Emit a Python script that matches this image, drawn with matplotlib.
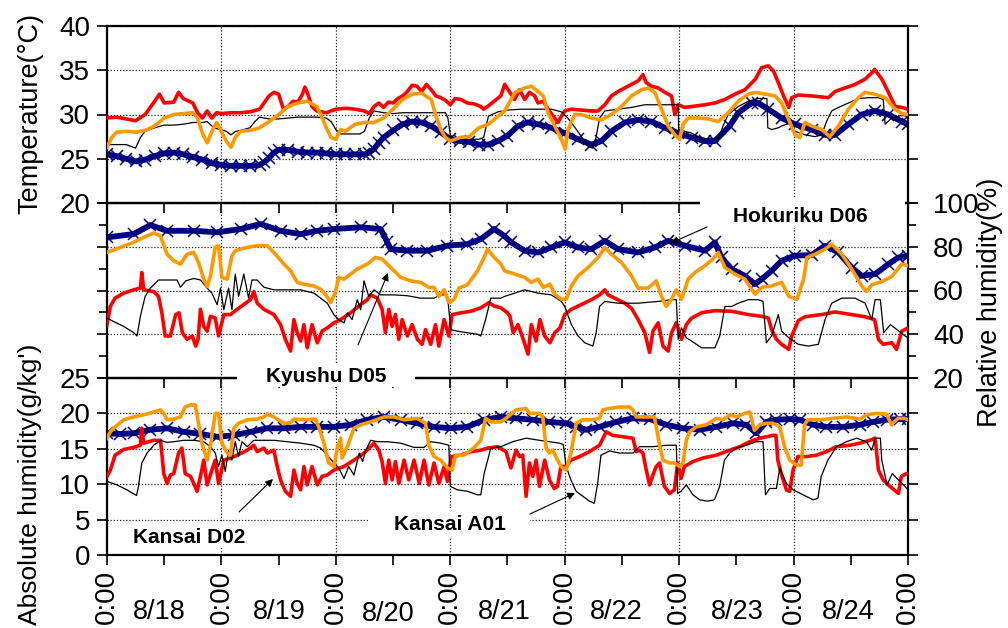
import matplotlib
matplotlib.use('Agg')
import matplotlib.pyplot as plt
from matplotlib.ticker import MultipleLocator
from matplotlib.transforms import blended_transform_factory
from matplotlib.patches import Rectangle

plt.rcParams['font.family'] = ['Liberation Sans', 'DejaVu Sans']

# ---------------- data (time in hours from 8/18 0:00) ----------------
# Temperature (degC)
t_red_h = [0,2,4,6,8,10,11,12,14,15,16,18,19,20,21,22,23,24,26,28,30,32,34,35,36,37,38,39,40,41,41.5,42,43,44,46,48,50,52,54,55,56,57,58,59,60,61,62,63,64,65,66,67,68,69,70,71,72,73,74.2,75.6,77,78.4,79,79.8,81.2,82.6,83.4,84.5,85.5,86.5,87.6,88.6,89.7,90.4,91.5,92.5,93.6,94.6,95.3,96,97.4,99.5,101.6,103,104.4,105.8,107.2,108.6,110,111.4,112.4,113.1,114.2,115.6,117,118.4,119.1,119.8,121.2,122.6,125.4,127.5,129.6,131.7,133.8,136,137.3,138.7,139.8,140.8,141.9,143,143.6,145,147.8,151.3,152.7,154.8,156.9,159,160.4,161,162.5,163.9,165.3,166.7,168]
t_red_v = [29.6,29.7,29.5,29.3,30.0,31.5,32.3,31.3,31.4,32.5,31.8,31.3,30.2,29.6,30.4,29.6,30.2,30.1,30.2,30.2,30.3,30.6,32.1,32.5,32.3,30.6,30.9,31.5,31.4,32.3,33.1,32.5,30.9,30.4,30.2,30.6,30.7,30.6,30.4,30.1,30.9,31.3,30.8,31.4,31.3,31.8,32.1,32.6,33.3,33.2,32.6,33.4,32.8,32.1,31.9,31.6,31.1,31.8,31.7,31.3,31.2,30.9,30.6,30.9,31.5,32.1,33.4,32.5,31.7,32.8,31.7,32.5,32.1,31.3,31.5,30.6,29.8,29.1,29.8,30.4,30.6,30.5,30.4,30.4,31.1,32.1,32.6,33.0,33.4,33.8,34.5,33.6,33.2,33.0,32.5,32.1,30.0,31.1,30.8,30.9,31.1,31.3,31.7,32.3,32.8,34.0,35.3,35.5,34.9,33.6,32.1,30.8,31.9,32.2,32.1,31.9,32.6,33.0,33.4,34.0,34.7,35.1,34.0,32.5,30.9,30.8,30.6]

t_org_h = [0,1,2,4,6,8,10,12,14,16,18,19,20,21,22,23,24,25,26,27,28,30,32,34,36,38,40,42,44,45,46,47,48,49,50,52,54,56,58,60,62,64,66,68,69,70,71,72,74,76,78,80,82,83.4,85.6,87.6,89,90.4,91.5,92.5,93.9,95.3,96.1,96.7,98.1,99.5,101.6,103.7,105.8,107.9,110,112.1,113.5,114.9,116.3,117.7,119.1,120.1,120.8,121.9,124,126.1,128.2,130.3,132.4,134.5,136,138,140.1,141.5,143,144.3,145.3,146.4,147.8,149.9,151.6,153.4,155.5,157.6,159,161,163.2,165.3,166.7,168]
t_org_v = [26.3,27.4,28.0,28.1,28.0,28.2,28.7,29.6,30.0,30.1,30.2,29.6,27.9,26.8,28.1,29.1,28.1,27.0,26.3,27.5,28.1,28.2,28.5,29.2,30.0,30.9,31.3,31.5,30.9,29.8,28.5,27.4,27.2,28.3,28.1,28.9,29.1,29.1,29.6,30.6,31.7,32.3,32.4,31.7,29.8,28.3,27.4,27.0,27.4,27.5,28.5,28.9,29.8,30.4,32.5,33.0,33.2,32.6,32.1,30.2,28.7,27.2,26.1,28.3,30.0,30.0,29.6,29.4,30.0,30.9,32.1,32.8,33.0,32.5,30.6,28.7,27.7,27.2,28.9,29.6,29.6,29.5,29.2,30.2,31.5,32.3,32.5,32.3,32.1,31.3,29.4,27.7,27.4,29.1,28.7,28.3,27.5,28.7,30.6,31.9,32.5,32.3,31.9,30.6,30.1,30.0]

t_blk_h = [0,4,6,7,8,10,12,14,16,18,20,21,22,23,24,25,26,27,28,30,31,32,34,36,38,40,42,44,46,47,48,49,51,53,54,55,56,58,60,62,64,66,68,70,71,71.5,72,73,74,76,78,79,80,82,84,86.9,90.4,93.2,95.3,96.3,97.4,99.5,100.9,101.9,102.6,103.3,104.4,107.2,110,112.8,116.3,119.8,119.9,121.2,122.6,124,126.1,128.2,129.2,130.3,132.4,134.5,136.6,138.4,138.6,139.4,140.8,141.5,143,144.3,146.4,148.5,149.9,150.9,152,153.4,155.5,157.6,159.7,161.8,162.8,163.2,164.6,166.7,168]
t_blk_v = [26.6,26.6,26.2,27.4,28.1,28.5,28.8,28.8,28.9,29.1,29.1,29.2,28.7,28.4,28.3,28.1,27.7,28.1,28.2,28.5,29.2,29.7,29.5,29.5,29.6,29.7,29.7,29.7,29.6,29.2,28.3,27.8,27.8,27.8,28.1,29.6,30.4,30.2,30.1,30.2,30.2,30.2,30.2,30.2,30.2,29.6,27.7,27.2,27.2,27.2,27.2,27.4,29.8,30.3,30.5,30.6,30.6,30.6,30.3,29.8,29.1,27.5,26.4,26.2,27.5,29.6,30.4,30.6,30.8,31.1,31.1,31.1,28.3,28.1,27.9,27.5,27.2,27.2,28.7,30.0,30.9,31.5,31.8,31.8,28.5,28.3,28.5,28.7,29.0,28.1,27.7,27.5,27.7,29.2,30.4,30.8,31.3,31.8,31.9,31.9,31.7,28.9,29.6,29.9,29.8]

t_nav_h = [0,2,4,6,8,10,12,14,16,18,20,22,24,26,28,30,32,33,34,35,36,38,40,42,44,46,48,50,52,54,55,56,57,58,60,62,64,66,68,70,72,74,76,78,80,82,84,86.2,88.3,90.4,93.2,96,98.8,101.6,103.7,105.8,108.6,111.4,114.2,117,119.8,122.6,125.4,127.5,130.6,132.4,135.2,136.6,138.7,141.5,144.3,147.8,150.6,152.7,155.5,158.3,161,163.9,166.7,168]
t_nav_v = [25.5,25.3,25.0,24.7,24.9,25.3,25.6,25.7,25.5,25.2,24.9,24.5,24.3,24.2,24.2,24.2,24.3,24.6,25.1,25.7,26.0,26.0,25.8,25.7,25.7,25.6,25.5,25.5,25.5,25.5,25.7,26.1,26.8,27.4,28.2,28.9,29.2,29.1,28.7,28.0,27.2,27.0,26.9,26.6,26.6,27.0,27.6,28.7,29.1,28.9,28.5,27.9,27.2,26.6,27.0,28.1,29.1,29.4,29.2,28.5,27.9,27.4,27.0,27.0,28.7,30.2,31.3,31.3,30.6,29.6,28.9,28.3,27.7,27.7,28.9,30.0,30.4,30.0,29.2,28.9]

# Relative humidity (%)
r_nav_h = [0,5.6,9.1,12.6,18.2,23.1,28,32.2,36.4,40.6,44.1,47.6,53.2,57.4,58.8,59.5,63,67.2,71.4,75.6,78.4,81.2,83.3,84.8,87.6,90.4,93.2,96,98.8,101.6,104.4,107.2,111.4,114.9,117.7,121.2,125.4,127.5,128.9,131,133.8,135.9,137.3,139.4,141.5,144.3,147.8,150.6,153.4,156.2,158.3,161.1,163.9,166,168]
r_nav_v = [84.3,85.8,89.9,87.3,87.3,86.6,88.1,90.4,87.3,85.8,87.3,88.1,88.9,88.1,82.0,78.9,78.2,78.2,80.5,81.2,83.5,88.1,85.0,82.0,78.2,77.4,79.7,82.0,79.7,78.9,82.7,78.9,77.4,79.7,82.7,80.5,78.2,82.0,75.1,69.8,66.7,62.9,65.2,69.0,73.6,75.9,76.2,80.5,77.4,70.5,66.7,67.5,72.1,75.1,75.9]

r_org_h = [0,2.8,5.6,7.7,9.8,11.2,12.6,14,15.4,16.8,18.2,19.2,20.3,21,21.7,22.7,23.4,24.1,25.2,26.2,26.9,28,29.4,31.5,33.6,35,37.1,38.5,39.9,41.3,43.4,44.8,45.8,46.9,47.9,48.6,49.7,51.1,52.5,54.6,56.3,57.7,59.5,61.6,63.7,65.8,67.5,68.6,69.6,70.7,71.7,72.8,73.8,75.6,77.7,79.1,79.8,81.2,82.6,83.4,85.5,87.6,89,90.4,91.5,92.9,93.9,95.3,96.3,97.4,98.8,100.9,103,104.4,105.8,107.9,110,111.4,113.5,115.2,116.3,117.3,118.4,119.4,120.5,121.9,123.3,125.4,127.1,128.2,129.6,131.7,133.8,135.9,137.3,139.4,141.5,143,144.7,146.1,146.8,148.5,150.6,152,154.1,156.2,158.3,159.3,160.4,162.5,164.6,166.7,168]
r_org_v = [77.4,79.7,82.0,84.3,86.3,85.0,76.6,73.6,72.1,76.6,77.4,72.8,65.2,61.8,66.7,79.7,80.5,66.0,65.2,75.9,78.2,78.9,79.7,80.5,80.5,77.4,72.1,69.0,63.7,62.9,62.1,60.6,58.3,54.5,59.1,66.0,65.2,67.5,69.8,72.1,75.1,74.4,70.5,66.0,64.4,63.7,61.4,61.4,57.3,60.3,54.5,56.0,61.1,62.6,69.0,75.1,78.9,75.1,72.1,69.0,67.5,66.0,63.7,65.2,61.4,62.9,58.3,56.0,56.0,62.1,66.7,70.5,75.1,79.7,76.6,72.8,66.7,61.1,61.1,64.4,57.3,52.7,56.0,60.3,56.0,65.2,68.2,71.3,74.4,77.4,70.5,67.5,65.2,58.3,61.4,62.1,63.7,57.3,56.0,65.2,75.1,76.6,78.9,81.2,76.6,69.8,62.1,59.5,62.6,64.1,66.4,72.1,71.3]

r_red_h = [0,0.7,1.7,3.5,5.6,7,7.3,7.7,9.8,10.8,11.5,12.2,13.3,14.4,15.1,15.8,16.8,17.9,18.6,19.1,19.6,20.3,21,21.7,22.7,23.4,24.5,25.9,27.3,28.7,30.1,30.8,31.5,32.9,35,36.4,37.4,38.5,39.2,39.9,40.6,41.3,42,43,44.1,45.1,46.2,47.6,49,51.1,53.2,54.6,55.3,56.7,57.7,58.4,59.1,59.8,60.5,61.2,61.9,63,64,65.1,66.1,66.8,67.9,68.9,69.6,70.7,71.7,72.4,74.2,76.3,78.4,80.1,81.2,82.6,84,84.5,85.2,86.2,87.3,88.3,89,90,90.8,91.8,92.9,93.9,95,96,97.4,99.5,101.6,103.3,104.4,105.1,106.5,108.6,110,111.4,112.8,113.8,114.5,115.6,116.6,117.7,118.4,119.4,120.5,121.5,122.6,124.7,127.5,131,134.5,137.3,138.7,139.4,140.4,141.5,143,143.6,145,146.4,149.9,152.7,156.2,159,161,161.8,162.8,164.6,165.6,166.7,168]
r_red_v = [44.4,52.7,56.5,58.8,60.3,61.1,68.2,60.3,59.5,57.3,49.8,39.2,39.2,49.0,49.8,40.7,37.7,39.2,34.6,37.7,51.4,43.6,41.4,48.2,47.4,39.2,49.0,49.0,51.4,53.6,55.8,59.5,54.2,51.4,49.0,44.4,37.7,32.3,46.7,40.7,36.9,44.4,33.8,44.4,36.1,41.4,42.9,45.2,46.7,49.8,53.6,55.8,58.0,56.5,51.4,40.7,51.4,43.6,49.0,37.7,46.7,39.2,44.4,37.7,35.4,42.1,35.4,44.4,34.6,46.7,39.2,49.0,49.8,50.5,52.1,54.4,52.9,52.1,49.8,48.3,40.7,44.4,37.7,30.9,44.4,36.9,46.7,39.2,36.1,40.7,42.9,49.0,51.4,53.6,55.8,58.0,60.3,58.0,56.5,54.2,51.9,46.7,40.7,31.7,41.4,45.2,34.6,32.3,40.7,45.2,37.7,44.4,47.4,49.8,50.8,50.5,49.0,48.2,47.4,42.1,37.7,35.4,33.1,39.2,46.2,48.0,49.0,50.2,49.0,48.0,46.7,37.7,35.4,36.1,33.1,41.4,42.9]

r_blk_h = [0,1.4,3.5,5.6,6.3,7,8,9.1,10.8,12.6,14.7,15.4,16.5,18.2,19.6,21,22,23.1,23.8,24.5,25.5,26.2,26.9,27.6,28.7,29.7,30.4,31.5,32.9,35,37.8,40.6,43.4,44.8,46.2,47.6,48.6,49.7,50.4,51.4,52.5,53.2,53.9,54.9,56,57.4,60.2,63,65.8,68.6,70,71.4,72.1,73.5,75.6,77.7,78.4,79.4,80.5,82.6,83.4,85.5,87.6,90.4,93.2,95.3,96,97.4,98.8,100.2,101.9,102.6,103.3,104.4,107.2,111.4,115.6,118.4,119.4,119.8,120.5,121.5,122.6,124.7,127.5,128.5,129.6,131,132.4,134.5,136.6,137.6,138.3,139.4,140.8,141.5,143,145,147.1,149.2,150.6,152,154.1,156.9,159,160.4,161.1,162.2,162.9,164.3,165.7,167.4,168]
r_blk_v = [47.4,45.8,43.6,40.7,39.2,48.2,57.3,61.1,64.8,64.8,64.8,61.5,64.4,65.5,64.8,61.1,58.8,53.5,61.1,51.2,61.1,51.2,67.5,57.3,67.5,56.5,64.8,64.8,61.5,60.3,60.3,60.3,58.8,56.5,54.2,48.9,46.7,45.2,49.8,46.7,55.8,51.2,64.4,57.3,60.3,58.0,58.0,57.6,56.5,56.5,58.0,58.0,42.1,41.4,40.7,40.0,39.2,46.7,56.5,56.5,57.3,58.8,60.3,58.8,58.0,55.0,52.7,44.4,39.2,36.1,34.6,40.7,52.7,55.0,54.2,54.2,55.0,55.8,55.8,37.7,42.9,38.4,36.9,33.8,33.8,39.2,52.7,52.7,54.2,55.8,55.8,55.0,36.1,39.2,49.0,41.4,38.4,35.4,34.6,35.4,46.7,54.2,56.5,56.5,54.2,46.7,55.8,55.8,40.7,44.4,42.1,39.2,38.4]

# Absolute humidity (g/kg')
a_org_h = [0,0.7,1.7,3.5,5.6,7.7,9.8,11.2,11.9,12.6,14,15.4,16.4,17.5,18.5,19.2,19.9,21,21.7,22.7,23.4,24.1,25.2,25.9,26.6,27.6,29.4,31.5,32.9,33.6,35,37.1,38.5,39.2,41.3,43.7,44.4,45.5,46.5,47.6,48.3,49,49.3,50.4,51.8,53.2,55.3,58.1,60.2,62.3,65.1,66.8,67.5,68.6,70,71.4,72.4,73.1,74.8,76.9,78.4,79.4,80.5,82.6,83.7,85.8,87.9,88.6,90.7,91.4,92.1,92.8,93.5,94.5,95.2,96.3,97.3,98.4,99.8,101.9,103.3,104,105.4,107.5,109.6,110.3,111,114.8,115.2,115.9,116.6,118,119,120.1,120.8,121.5,122.2,123.6,125.7,127.8,129.2,130.6,132,133.7,134.8,135.8,136.9,138.3,139.7,141.1,142.1,143.2,144.6,145.6,146.3,147,149.5,152.3,155.1,157.9,159.3,161.4,163.5,164.5,165.9,167.3,168]
a_org_v = [16.5,17.4,18.1,19.1,19.5,19.8,20.2,20.5,20.0,19.1,19.2,19.5,20.9,21.2,21.2,18.6,15.8,13.4,15.5,20.0,20.0,15.8,14.4,14.1,17.9,18.6,19.1,19.2,19.5,19.9,19.5,18.6,18.7,19.2,19.1,19.2,18.1,15.8,13.0,12.5,15.1,16.5,13.7,15.3,17.9,18.4,18.8,19.5,19.5,19.1,19.3,18.6,15.5,13.9,13.4,12.3,12.0,14.1,14.1,15.1,16.2,19.3,18.8,18.8,19.3,20.5,20.7,20.0,20.0,19.5,15.1,14.4,14.8,13.4,12.5,12.0,14.4,18.6,19.1,19.1,19.3,20.5,20.7,20.9,20.9,20.5,19.5,19.5,18.1,15.5,13.4,13.0,13.0,12.5,13.0,16.2,17.4,18.1,18.4,19.3,19.1,19.8,19.5,20.0,20.2,17.6,18.4,18.6,18.6,18.1,15.3,13.4,12.7,12.7,18.4,19.1,19.1,19.3,19.5,19.2,19.8,20.0,19.9,18.4,19.3,19.3,19.1]

a_nav_h = [0,2.8,5.6,9.1,12.6,16.1,19.6,23.1,26.6,30.1,33.6,37.1,40.6,44.1,47.6,51.1,54.6,58.1,61.6,65.1,68.6,72.1,75.6,79.1,82.6,85.8,89.3,92.8,96.3,98.4,100.5,103.3,106.8,110.3,113.8,117.3,120.8,124.3,127.8,131.3,134.1,136.2,138.3,140.4,143.2,145.3,148.1,150.9,154.4,157.9,160.7,163.5,166.3,168]
a_nav_v = [17.2,17.1,17.2,17.7,17.9,17.4,17.1,16.7,16.9,17.4,17.9,17.9,18.1,18.1,18.1,18.4,19.1,19.5,19.1,18.6,18.1,17.9,18.1,19.1,19.5,19.3,19.1,18.8,18.6,18.1,17.7,18.1,18.8,19.3,19.2,18.4,17.9,17.7,18.1,18.6,18.4,17.2,18.8,19.1,19.2,19.1,18.4,18.1,18.1,18.4,18.8,19.1,19.2,19.2]

a_red_h = [0,0.7,1.7,3.5,5.6,7,7.3,7.7,9.8,11.2,11.5,11.9,12.6,13.3,14,15,15.7,16.4,17.5,18.2,18.9,19.6,20.3,21,22,22.7,23.4,24.5,25.9,27.3,29.4,30.8,31.5,32.9,33.6,35,35.7,36.4,37.4,38.5,39.2,39.9,40.6,41.3,42,43,44.1,45.1,46.2,47.6,49.7,51.8,53.9,55.3,56,57,57.7,58.4,59.1,59.8,60.5,61.2,62.3,63.3,64.4,65.5,66.5,67.5,68.6,69.6,70.7,71.4,72.2,74.2,76.3,78.4,79.8,81.9,83.7,84.7,85.8,86.5,87.2,87.9,88.6,89.3,90,90.7,91.8,92.8,93.8,94.5,95.2,96.3,97.3,99.1,101.2,103.3,104.7,106.1,108.2,110.3,111,111.7,112.4,113.1,113.8,114.5,115.2,115.9,116.9,118,119,119.7,120.4,121.1,122.9,125,127.8,130.6,132.7,134.8,136.9,138.3,139.7,140.3,140.7,141.4,142.5,143.2,143.9,144.9,146.7,148.8,150.9,153,155.8,157.9,160,161.1,161.8,162.8,164.2,166,166.6,167.7,168]
a_red_v = [11.1,12.0,14.1,14.9,15.2,15.5,17.9,15.8,16.2,16.2,14.4,11.5,10.1,11.3,11.5,14.4,15.1,11.5,11.1,10.1,9.0,11.1,13.4,9.9,12.0,13.4,10.1,13.4,13.7,14.1,14.8,15.5,14.6,15.1,14.4,14.8,12.5,10.6,9.0,8.3,12.0,10.1,9.2,12.5,9.9,12.5,9.9,11.1,11.3,12.0,12.5,13.4,14.4,15.3,15.8,14.8,13.2,10.1,13.4,10.6,13.2,10.1,13.4,10.6,13.4,10.1,13.4,9.9,13.0,10.1,12.5,10.4,13.9,14.1,14.6,14.8,15.1,15.3,14.6,12.3,14.8,13.9,14.1,8.3,13.0,11.1,13.4,9.7,13.4,10.6,9.4,9.7,12.5,12.5,13.4,13.9,14.6,15.5,17.4,16.9,16.7,16.5,14.6,14.8,14.4,12.0,9.9,11.3,12.5,13.0,9.7,8.7,9.2,13.0,10.8,12.5,13.2,13.7,14.1,14.8,15.3,16.0,16.5,16.7,16.9,16.9,13.4,11.5,9.2,9.0,12.0,13.9,13.9,14.1,14.6,15.3,15.5,15.8,16.2,16.5,12.0,10.6,9.7,8.7,11.1,11.5,11.5]

a_blk_h = [0,2.1,4.2,6.2,6.6,7.3,8.4,9.8,11.2,12.6,14,16.1,18.2,20.3,21.7,22.7,23.4,24.1,24.8,25.5,26.2,26.9,27.6,28.3,29.4,30.8,32.9,35,37.8,40.6,43.4,44.8,46.2,47.6,48.6,49.7,50.7,51.8,52.9,53.6,54.3,55.3,56.7,58.8,61.6,64.4,66.5,67.9,70,71.7,72,73.5,75.6,77.7,78.4,79.1,80.5,82.6,85.1,87.9,90.7,92.8,94.9,95.7,96.3,97.3,98.4,99.8,101.2,102.2,102.9,103.6,105.4,107.5,110.3,111.7,114.5,117.3,119.4,119.7,120.4,121.5,122.9,124.3,126,127.4,128.5,129.5,130.6,132,134.1,136.2,137.6,138.1,139,140.4,141.1,142.5,143.9,146,148.1,149.1,149.8,151.2,153,155.1,157.2,159.3,160.4,161.1,162.2,162.5,163.6,164.7,165.7,167.1,168]
a_blk_v = [10.4,9.9,9.2,8.4,9.7,13.0,14.4,15.5,16.2,15.9,16.0,16.2,16.2,16.0,15.3,14.4,12.5,14.1,11.8,14.8,13.4,16.0,13.9,16.0,15.3,16.2,16.2,16.2,16.0,15.8,15.5,15.1,14.1,13.0,12.3,10.8,12.5,11.3,14.4,13.2,14.8,16.2,16.0,16.0,15.8,15.2,15.2,16.0,15.8,15.5,9.7,9.2,9.0,8.5,8.5,11.5,15.1,15.3,16.0,16.5,16.2,16.0,15.8,15.6,12.5,10.6,9.0,8.3,7.6,7.3,10.1,14.1,14.7,14.4,14.4,15.3,15.3,15.5,15.5,8.7,9.0,9.9,8.5,7.8,7.6,7.8,9.7,13.4,14.4,15.1,15.5,16.0,16.0,8.5,9.4,9.4,12.3,10.1,9.2,8.5,7.8,8.0,11.1,13.4,15.3,16.0,16.5,16.0,14.8,16.5,16.5,13.4,9.9,11.5,10.8,9.9,9.2]

day_tick_labels = ['0:00'] * 8
date_labels = ['8/18', '8/19', '8/20', '8/21', '8/22', '8/23', '8/24']

# ---------------- layout / style ----------------
W, H = 1008, 628
RED, ORANGE, NAVY, BLACK = '#FF0000', '#FF9900', '#000080', '#000000'
date_x = [10.9, 36.1, 58.9, 83.3, 106.8, 132.1, 155.4]
date_base = [619, 619, 621, 619, 619, 619, 619]

fig = plt.figure(figsize=(W / 100, H / 100), dpi=100)


def rect(x0, y0, x1, y1):
    return [x0 / W, 1 - y1 / H, (x1 - x0) / W, (y1 - y0) / H]


ax1 = fig.add_axes(rect(107, 26, 908, 203))
ax2 = fig.add_axes(rect(107, 203, 908, 378))
ax3 = fig.add_axes(rect(107, 378, 908, 555))


def draw(ax, nav, red, blk, org):
    ax.plot(nav[0], nav[1], color=NAVY, lw=4.2, marker='x', ms=8, mew=1.1, zorder=2)
    ax.plot(red[0], red[1], color=RED, lw=2.6, zorder=3)
    ax.plot(blk[0], blk[1], color=BLACK, lw=0.9, zorder=4)
    ax.plot(org[0], org[1], color=ORANGE, lw=2.6, zorder=5)


draw(ax1, (t_nav_h, t_nav_v), (t_red_h, t_red_v), (t_blk_h, t_blk_v), (t_org_h, t_org_v))
draw(ax2, (r_nav_h, r_nav_v), (r_red_h, r_red_v), (r_blk_h, r_blk_v), (r_org_h, r_org_v))
draw(ax3, (a_nav_h, a_nav_v), (a_red_h, a_red_v), (a_blk_h, a_blk_v), (a_org_h, a_org_v))

for ax in (ax1, ax2, ax3):
    ax.set_xlim(0, 168)
    ax.xaxis.set_major_locator(MultipleLocator(24))
    ax.xaxis.set_minor_locator(MultipleLocator(12))
    ax.grid(True, which='major', color='#222222', lw=0.9, ls=(0, (1, 1.5)))
    for s in ax.spines.values():
        s.set_linewidth(1.6)
    ax.tick_params(axis='x', which='both', direction='out', length=7, width=1.2,
                   bottom=True, top=False, labelbottom=False)
    ax.tick_params(axis='y', which='both', direction='out', length=7, width=1.2,
                   left=True, right=True, labelsize=20)
    ax.patch.set_alpha(0)

ax1.set_ylim(20, 40)
ax1.yaxis.set_major_locator(MultipleLocator(5))
ax1.tick_params(axis='y', labelleft=True, labelright=False, pad=5)

ax2.set_ylim(20, 100)
ax2.yaxis.set_major_locator(MultipleLocator(20))
ax2.yaxis.set_minor_locator(MultipleLocator(10))
ax2.tick_params(axis='y', which='minor', length=6)
ax2.tick_params(axis='y', labelleft=False, labelright=True, pad=11)

ax3.set_ylim(0, 25)
ax3.yaxis.set_major_locator(MultipleLocator(5))
ax3.tick_params(axis='y', labelleft=True, labelright=False, pad=5)
ax3.tick_params(axis='x', which='major', labelbottom=True, labelsize=20, pad=4)
ax3.set_xticks(range(0, 169, 24))
ax3.set_xticklabels(day_tick_labels, rotation=90)

btr = blended_transform_factory(ax3.transData, fig.transFigure)
for x, yb, lab in zip(date_x, date_base, date_labels):
    ax3.text(x, 1 - yb / H, lab, transform=btr, ha='center', va='baseline',
             fontsize=19.5, clip_on=False)

fig.text(30 / W, 1 - 113 / H, 'Temperature(°C)', rotation=90, ha='center', va='center', fontsize=19.5)
fig.text(990 / W, 1 - 302 / H, 'Relative humidity(%)', rotation=90, ha='center', va='center', fontsize=19.5)
fig.text(30 / W, 1 - 484 / H, "Absolute humidity(g/kg')", rotation=90, ha='center', va='center', fontsize=19)

# overlay for annotation labels
ov = fig.add_axes([0, 0, 1, 1], zorder=10)
ov.set_xlim(0, W)
ov.set_ylim(H, 0)
ov.axis('off')
ov.patch.set_alpha(0)

boxes = [(237, 363, 178, 24), (700, 197, 205, 31), (368, 508, 162, 29), (128, 523, 122, 24)]
for (bx, by, bw, bh) in boxes:
    ov.add_patch(Rectangle((bx, by), bw, bh, facecolor='white', edgecolor='none', zorder=1))

labels = [('Kyushu D05', 326, 382, (358, 345), (388, 273)),
          ('Hokuriku D06', 800, 222, (707, 227), (671, 243)),
          ('Kansai D02', 189, 543, (239, 512), (273, 479)),
          ('Kansai A01', 450, 530, (530, 514), (575, 493))]
for txt, tx, ty, tail, tip in labels:
    ov.text(tx, ty, txt, ha='center', va='baseline', fontsize=15, fontweight='bold', zorder=3)
    ov.annotate('', xy=tip, xytext=tail,
                arrowprops=dict(arrowstyle='-|>', color='black', lw=0.8,
                                mutation_scale=11, shrinkA=0, shrinkB=0), zorder=3)

fig.savefig('out.png', dpi=100)
